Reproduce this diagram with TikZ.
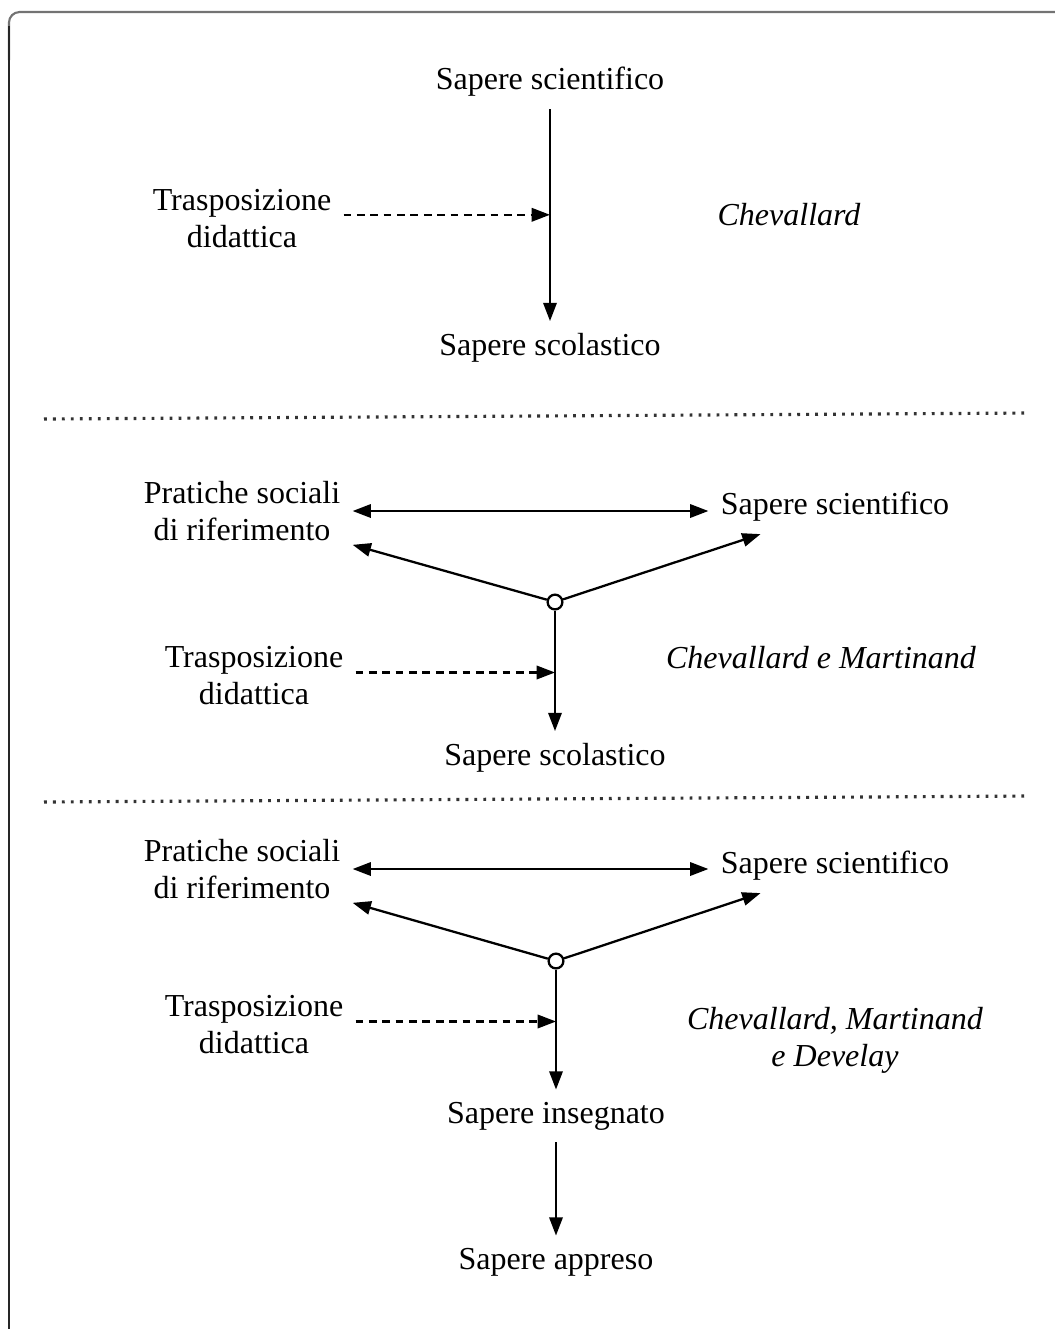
\documentclass[tikz,border=0pt]{standalone}
\usepackage{fontspec}
\setmainfont{Liberation Serif}
\usetikzlibrary{arrows.meta}

\tikzset{
    lab/.style={font=\fontsize{9.1pt}{10.5pt}\selectfont, align=center},
    auth/.style={lab, font=\fontsize{9.1pt}{10.5pt}\selectfont\itshape},
    arr/.style={line width=0.65pt, -{Triangle[length=5.2pt,width=3.8pt]}},
    darr/.style={line width=0.65pt, {Triangle[length=5.2pt,width=3.8pt]}-{Triangle[length=5.2pt,width=3.8pt]}},
    dasharr/.style={arr, dash pattern=on 2.2pt off 1.6pt},
    hub/.style={circle, draw, line width=0.65pt, fill=white, inner sep=0pt, minimum size=4.2pt},
    sep/.style={line width=0.9pt, black!80, dash pattern=on 0.8pt off 1.75pt}
}

\begin{document}
\begin{tikzpicture}[x=0.01cm, y=-0.01cm]
    \useasboundingbox (0,0) rectangle (1055,1329);
    % frame
    \draw[black!55, line width=0.6pt, rounded corners=3pt] (9,60) -- (9,12) -- (1055,12);
    \draw[black!85, line width=0.65pt] (9,26) -- (9,1329);

    % Chevallard
    \node[lab] (sci1) at (550,82) {Sapere scientifico};
    \node[lab] (scol1) at (550,348) {Sapere scolastico};
    \node[lab] (trasp1) at (242,219) {Trasposizione\\didattica};
    \node[auth] (chev1) at (789,215) {Chevallard};
    \draw[arr] (sci1) -- (scol1);
    \draw[dasharr] ([yshift=1.2pt]trasp1.east) -- ([yshift=1.2pt]trasp1.east -| sci1.south);

    \draw[sep] (44,419) -- (1030,413);

    % Chevallard e Martinand
    \node[lab] (prat2) at (242,511) {Pratiche sociali\\di riferimento};
    \node[lab] (sci2) at (835,507) {Sapere scientifico};
    \node[hub] (hub2) at (555,602) {};
    \node[lab] (trasp2) at (254,676) {Trasposizione\\didattica};
    \node[lab] (scol2) at (555,758) {Sapere scolastico};
    \node[auth] (chev2) at (821,658) {Chevallard e Martinand};
    \draw[darr] (prat2.east) -- (prat2.east -| sci2.west);
    \draw[arr] (hub2) -- (prat2.-17);
    \draw[arr] (hub2) -- (sci2.-160);
    \draw[arr] (hub2) -- (scol2);
    \draw[dasharr] ([yshift=1pt]trasp2.east) -- ([yshift=1pt]trasp2.east -| hub2);

    \draw[sep] (44,802) -- (1030,796);

    % Chevallard, Martinand e Develay
    \node[lab] (prat3) at (242,869) {Pratiche sociali\\di riferimento};
    \node[lab] (sci3) at (835,866) {Sapere scientifico};
    \node[hub] (hub3) at (556,961) {};
    \node[lab] (trasp3) at (254,1025) {Trasposizione\\didattica};
    \node[lab] (ins3) at (556,1116) {Sapere insegnato};
    \node[lab] (app3) at (556,1262) {Sapere appreso};
    \node[auth] (chev3) at (835,1040) {Chevallard, Martinand\\e Develay};
    \draw[darr] (prat3.east) -- (prat3.east -| sci3.west);
    \draw[arr] (hub3) -- (prat3.-17);
    \draw[arr] (hub3) -- (sci3.-160);
    \draw[arr] (hub3) -- (ins3);
    \draw[dasharr] ([yshift=1pt]trasp3.east) -- ([yshift=1pt]trasp3.east -| hub3);
    \draw[arr] (ins3) -- (app3);
\end{tikzpicture}
\end{document}
